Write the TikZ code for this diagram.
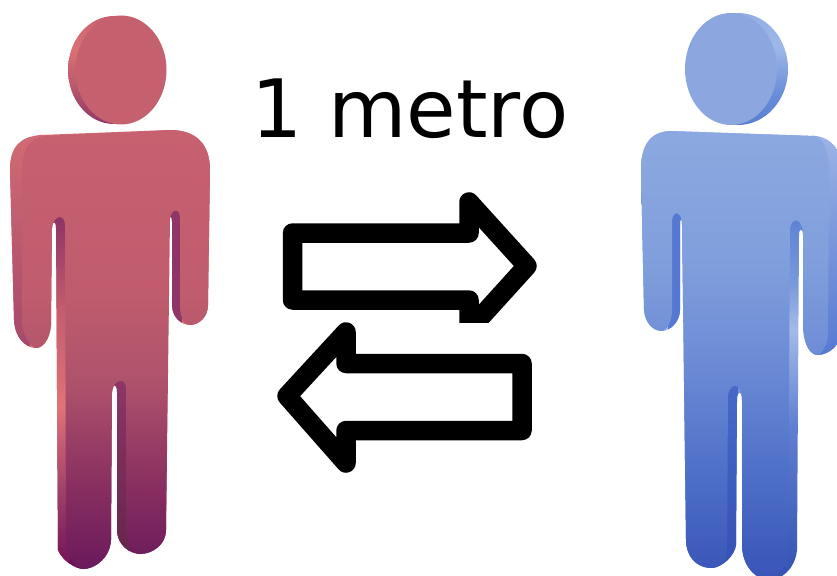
\documentclass[tikz,border=0pt]{standalone}
\usepackage{fontspec}
\setmainfont{DejaVu Sans}
% --- position p = 25 + 50*(bottom-y)/(bottom-top) ---
\pgfdeclareverticalshading{redface}{100bp}{rgb(0bp)=(0.42,0.10,0.36); rgb(25bp)=(0.42,0.10,0.36); rgb(35bp)=(0.54,0.19,0.38); rgb(46bp)=(0.68,0.32,0.42); rgb(56bp)=(0.75,0.36,0.43); rgb(75bp)=(0.78,0.38,0.44); rgb(100bp)=(0.78,0.38,0.44)}
\pgfdeclareverticalshading{redback}{100bp}{rgb(0bp)=(0.40,0.06,0.33); rgb(25bp)=(0.40,0.06,0.33); rgb(33bp)=(0.55,0.17,0.37); rgb(50bp)=(0.84,0.42,0.45); rgb(75bp)=(0.82,0.42,0.45); rgb(100bp)=(0.82,0.42,0.45)}
\pgfdeclareverticalshading{redband}{100bp}{rgb(0bp)=(0.44,0.06,0.34); rgb(25bp)=(0.44,0.06,0.34); rgb(36bp)=(0.62,0.25,0.41); rgb(48bp)=(0.88,0.45,0.47); rgb(62bp)=(0.76,0.36,0.43); rgb(75bp)=(0.55,0.20,0.40); rgb(100bp)=(0.55,0.20,0.40)}
\pgfdeclareverticalshading{redhead}{100bp}{rgb(0bp)=(0.55,0.22,0.40); rgb(25bp)=(0.55,0.22,0.40); rgb(45bp)=(0.75,0.36,0.43); rgb(60bp)=(0.86,0.44,0.46); rgb(75bp)=(0.78,0.38,0.44); rgb(100bp)=(0.78,0.38,0.44)}
\pgfdeclareverticalshading{blueface}{100bp}{rgb(0bp)=(0.22,0.33,0.72); rgb(25bp)=(0.22,0.33,0.72); rgb(36bp)=(0.30,0.43,0.78); rgb(50bp)=(0.43,0.55,0.84); rgb(60bp)=(0.50,0.62,0.86); rgb(75bp)=(0.55,0.66,0.88); rgb(100bp)=(0.55,0.66,0.88)}
\pgfdeclareverticalshading{blueband}{100bp}{rgb(0bp)=(0.20,0.32,0.70); rgb(25bp)=(0.20,0.32,0.70); rgb(42bp)=(0.37,0.50,0.82); rgb(53bp)=(0.64,0.73,0.91); rgb(58bp)=(0.47,0.60,0.86); rgb(66bp)=(0.36,0.50,0.83); rgb(70bp)=(0.62,0.72,0.91); rgb(100bp)=(0.62,0.72,0.91)}
\pgfdeclareverticalshading{bluehead}{100bp}{rgb(0bp)=(0.35,0.49,0.82); rgb(25bp)=(0.35,0.49,0.82); rgb(40bp)=(0.42,0.56,0.85); rgb(60bp)=(0.62,0.72,0.91); rgb(75bp)=(0.57,0.68,0.89); rgb(100bp)=(0.57,0.68,0.89)}
\definecolor{redfront}{HTML}{C5606F}
\definecolor{redshoulder}{HTML}{D26C73}
\definecolor{redarmlow}{HTML}{A6486B}
\definecolor{bluefront}{HTML}{8CA7E0}
\definecolor{reddark}{HTML}{8E3668}
\definecolor{bluedark}{HTML}{5578D2}
\definecolor{blueleg}{HTML}{4869CA}
\definecolor{bluelegdark}{HTML}{3451B4}
\def\redB{(10,170) .. controls (10,145) and (22,137) .. (40,135) -- (170,130) .. controls (195,130) and (210,143) .. (210,170) -- (208,305) .. controls (208,318) and (198,325) .. (190,325) .. controls (182,325) and (172,318) .. (172,305) -- (172,222) .. controls (172,215) and (169,215) .. (169,222) -- (166,530) .. controls (166,545) and (152,554) .. (140,554) .. controls (130,554) and (117,545) .. (117,530) -- (117,392) .. controls (117,383) and (112,383) .. (112,392) -- (111,540) .. controls (110,558) and (95,569) .. (83,569) .. controls (75,569) and (62,560) .. (58,550) -- (56,228) .. controls (56,220) and (52,220) .. (52,228) -- (51,325) .. controls (50,340) and (42,349) .. (35,348) .. controls (25,347) and (15,338) .. (14,320) -- cycle}
\def\redF{(22,170) .. controls (22,148) and (30,138) .. (45,136) -- (170,130) .. controls (195,130) and (210,143) .. (210,170) -- (208,305) .. controls (208,318) and (198,325) .. (190,325) .. controls (185,325) and (180,320) .. (180,305) -- (180,218) .. controls (180,208) and (172,208) .. (170,218) -- (166,530) .. controls (166,545) and (152,554) .. (140,554) .. controls (133,554) and (126,545) .. (126,530) -- (126,388) .. controls (126,378) and (114,378) .. (112,392) -- (111,540) .. controls (110,558) and (95,569) .. (83,569) .. controls (76,569) and (66,555) .. (66,540) -- (65,225) .. controls (65,214) and (54,214) .. (52,228) -- (51,325) .. controls (50,340) and (42,349) .. (35,348) .. controls (30,345) and (22,335) .. (22,320) -- cycle}
\def\blueB{(641,170) .. controls (641,145) and (650,132) .. (670,131) -- (815,136) .. controls (832,138) and (842,150) .. (843,175) -- (842,330) .. controls (842,345) and (828,355) .. (818,355) .. controls (808,355) and (803,340) .. (803,325) -- (803,235) .. controls (803,228) and (799,228) .. (799,235) -- (797,550) .. controls (795,570) and (780,580) .. (770,580) .. controls (755,580) and (742,565) .. (742,545) -- (742,400) .. controls (742,390) and (737,390) .. (737,400) -- (736,545) .. controls (735,555) and (722,568) .. (712,568) .. controls (695,568) and (686,555) .. (686,540) -- (682,225) .. controls (682,217) and (680,217) .. (680,225) -- (680,310) .. controls (680,322) and (670,331) .. (662,331) .. controls (652,331) and (645,322) .. (644,310) -- cycle}
\def\blueF{(641,170) .. controls (641,145) and (650,132) .. (670,131) -- (815,136) .. controls (826,140) and (829,155) .. (829,175) -- (828,335) .. controls (828,345) and (820,355) .. (818,355) .. controls (808,355) and (803,340) .. (803,325) -- (803,235) .. controls (803,218) and (792,216) .. (790,228) -- (788,555) .. controls (786,570) and (775,580) .. (770,580) .. controls (755,580) and (742,565) .. (742,545) -- (742,400) .. controls (742,382) and (730,382) .. (728,395) -- (727,550) .. controls (726,560) and (718,568) .. (712,568) .. controls (695,568) and (686,555) .. (686,540) -- (682,225) .. controls (682,210) and (672,210) .. (672,222) -- (672,310) .. controls (672,322) and (666,331) .. (662,331) .. controls (652,331) and (645,322) .. (644,310) -- cycle}
\begin{document}
\begin{tikzpicture}[x=1pt,y=-1pt,
  arrowline/.style={draw=black,line width=19.5pt,line join=round,fill=white},
  label/.style={text=black,inner sep=0pt,anchor=base}]
\useasboundingbox (0,0) rectangle (837,575);
\fill[white] (0,0) rectangle (837,575);
% ---------- red figure ----------
\shade[shading=redhead] (114,70) ellipse [x radius=46,y radius=54];
\fill[redfront] (121,70) ellipse [x radius=45.5,y radius=54.5];
\shade[shading=redback] \redB;
\begin{scope}
  \clip \redB;
  \shade[shading=redband] (52,215) rectangle (70,570);
  \shade[top color=redshoulder,bottom color=redarmlow] (5,130) rectangle (30,350);
  \fill[reddark] (165,205) rectangle (182,330);
  \shade[top color=reddark,bottom color=reddark!70!black] (112,375) rectangle (130,560);
\end{scope}
\shade[shading=redface] \redF;
% ---------- blue figure ----------
\shade[shading=bluehead] (738,69) ellipse [x radius=50,y radius=56];
\fill[bluefront] (731,69) ellipse [x radius=46,y radius=56];
\shade[shading=blueband] \blueB;
\begin{scope}
  \clip \blueB;
  \fill[bluedark] (668,205) rectangle (681,335);
  \shade[top color=blueleg,bottom color=bluelegdark] (726,380) rectangle (738,570);
  \shade[top color=bluefront!85!white,bottom color=bluedark] (812,130) rectangle (845,358);
\end{scope}
\shade[shading=blueface] \blueF;
% ---------- arrows ----------
\begin{scope}
  \clip (270,180) rectangle (550,322);
  \path[arrowline] (292.5,233) -- (469,233) -- (469,202) -- (527,266) -- (469,330) -- (469,300) -- (292.5,300) -- cycle;
\end{scope}
\path[arrowline] (522,363.5) -- (346,363.5) -- (346,332) -- (287,396) -- (346,463) -- (346,430.5) -- (522,430.5) -- cycle;
% ---------- text ----------
\node[label] (dist) at (410,137) {\fontsize{80.5}{84}\selectfont 1 metro};
\end{tikzpicture}
\end{document}
